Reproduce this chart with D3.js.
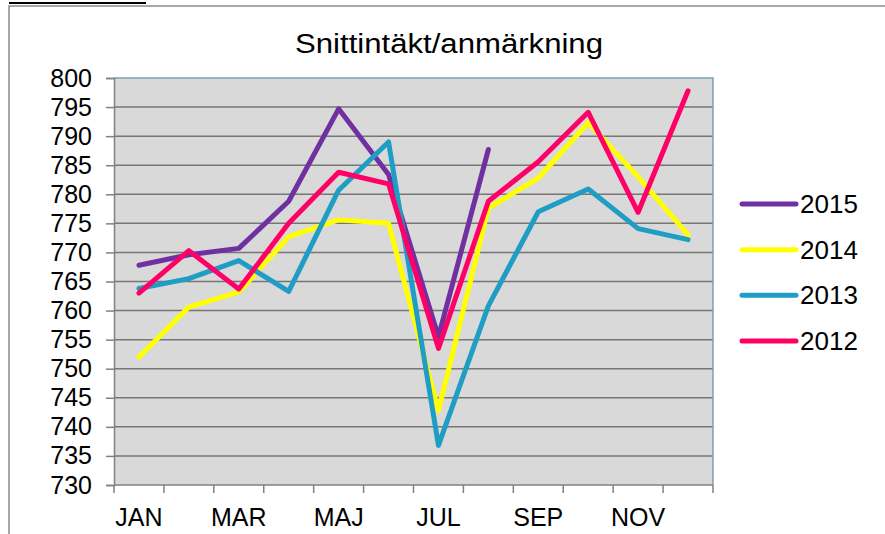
<!DOCTYPE html>
<html lang="sv">
<head>
  <meta charset="UTF-8"/>
  <title>Snittintäkt/anmärkning</title>
  <style>
    *{margin:0;padding:0}
    body{background:#fff;width:885px;height:534px;overflow:hidden}
    svg{display:block;font-family:"Liberation Sans",Arial,sans-serif}
  </style>
</head>
<body>
  <div id="chart"></div>
  <script src="https://d3js.org/d3.v7.min.js"></script>
  <script>
    // categories
    const months = ['JAN','FEB','MAR','APR','MAJ','JUN','JUL','AUG','SEP','OKT','NOV','DEC'];
    const shownMonths = ['JAN','MAR','MAJ','JUL','SEP','NOV'];
    const yTicks = d3.range(730, 801, 5);

    // series values
    const v2015 = [767.8, 769.6, 770.7, 778.8, 794.7, 783.4, 755.5, 787.7, null, null, null, null];
    const v2014 = [752.0, 760.6, 763.2, 772.7, 775.6, 775.0, 742.8, 777.6, 782.8, 792.3, 783.0, 773.0];
    const v2013 = [763.8, 765.5, 768.6, 763.3, 780.7, 789.0, 736.8, 760.8, 777.0, 780.9, 774.1, 772.2];
    const v2012 = [763.0, 770.3, 763.7, 775.0, 783.8, 781.8, 753.5, 778.8, 785.6, 794.1, 776.9, 797.8];

    const series = [
      { name:'2015', values:v2015, color:'#7030a0' },
      { name:'2014', values:v2014, color:'#ffff00' },
      { name:'2013', values:v2013, color:'#1f9dc4' },
      { name:'2012', values:v2012, color:'#ff0066' }
    ];

    const W = 885, H = 534;
    const plot = { l:114, t:78, r:713, b:485 };

    const svg = d3.select('#chart').append('svg')
      .attr('width', W).attr('height', H);

    // bits of the page around the chart
    svg.append('line').attr('x1',9).attr('x2',146).attr('y1',3).attr('y2',3)
      .attr('stroke','#000').attr('stroke-width',2);
    svg.append('path').attr('d',`M9,${H+2}V6H${W+2}`)
      .attr('fill','none').attr('stroke','#8c8c8c').attr('stroke-width',1.5);

    const x = d3.scaleBand().domain(months).range([plot.l, plot.r]);
    const y = d3.scaleLinear().domain([730, 800]).range([plot.b, plot.t]);

    // plot background
    svg.append('rect')
      .attr('x', plot.l).attr('y', plot.t)
      .attr('width', plot.r - plot.l).attr('height', plot.b - plot.t)
      .attr('fill', '#d9d9d9');

    // gridlines
    svg.append('g')
      .selectAll('line').data(yTicks.slice(1, -1)).join('line')
      .attr('x1', plot.l).attr('x2', plot.r)
      .attr('y1', d => y(d)).attr('y2', d => y(d))
      .attr('stroke', '#767676').attr('stroke-width', 1.5);

    // top + right frame
    svg.append('path')
      .attr('d', `M${plot.l},${plot.t}H${plot.r}V${plot.b}`)
      .attr('fill','none').attr('stroke','#78a2b2').attr('stroke-width',1.5);

    // y axis
    const yAxis = svg.append('g')
      .attr('transform', `translate(${plot.l},0)`)
      .call(d3.axisLeft(y).tickValues(yTicks).tickSize(8).tickPadding(14).tickFormat(d3.format('d')));
    yAxis.select('.domain').attr('stroke','#808080').attr('stroke-width',1.5);
    yAxis.selectAll('.tick line').attr('stroke','#808080').attr('stroke-width',1.5);
    yAxis.selectAll('.tick text')
      .attr('font-size', 25).attr('fill', '#000')
      .attr('font-family', '"Liberation Sans",Arial,sans-serif');

    // x axis: ticks at band edges, labels every other month
    const xAxis = svg.append('g')
      .attr('transform', `translate(0,${plot.b})`);
    xAxis.append('line').attr('x1', plot.l).attr('x2', plot.r)
      .attr('stroke','#808080').attr('stroke-width',1.5);
    xAxis.selectAll('line.tk').data(months.concat(['end'])).join('line')
      .attr('class','tk')
      .attr('x1', (d,i) => plot.l + i * x.step()).attr('x2', (d,i) => plot.l + i * x.step())
      .attr('y1', 0).attr('y2', 8)
      .attr('stroke','#808080').attr('stroke-width',1.5);
    xAxis.selectAll('text').data(shownMonths).join('text')
      .attr('x', d => x(d) + x.bandwidth()/2)
      .attr('y', 41)
      .attr('text-anchor','middle')
      .attr('font-size', 25).attr('fill','#000')
      .text(d => d);

    // lines
    const line = d3.line()
      .defined(d => d.v != null)
      .x(d => x(d.m) + x.bandwidth()/2)
      .y(d => y(d.v));

    // draw 2012 last so it sits on top like in the original
    svg.append('g').selectAll('path').data(series).join('path')
      .attr('d', s => line(s.values.map((v,i) => ({ m: months[i], v }))))
      .attr('fill','none')
      .attr('stroke', s => s.color)
      .attr('stroke-width', 5)
      .attr('stroke-linejoin','round')
      .attr('stroke-linecap','round');

    // title
    svg.append('text')
      .attr('x', 449).attr('y', 53)
      .attr('text-anchor','middle')
      .attr('font-size', 27)
      .attr('textLength', 308).attr('lengthAdjust','spacingAndGlyphs')
      .text('Snittintäkt/anmärkning');

    // legend
    const legY = d3.scalePoint().domain(series.map(s => s.name)).range([204, 341]);
    const leg = svg.append('g').selectAll('g').data(series).join('g')
      .attr('transform', s => `translate(0,${legY(s.name)})`);
    leg.append('line')
      .attr('x1', 742).attr('x2', 796)
      .attr('stroke', s => s.color).attr('stroke-width', 5).attr('stroke-linecap','round');
    leg.append('text')
      .attr('x', 800).attr('dy', '0.35em')
      .attr('font-size', 26).attr('fill','#000')
      .text(s => s.name);
  </script>
</body>
</html>
